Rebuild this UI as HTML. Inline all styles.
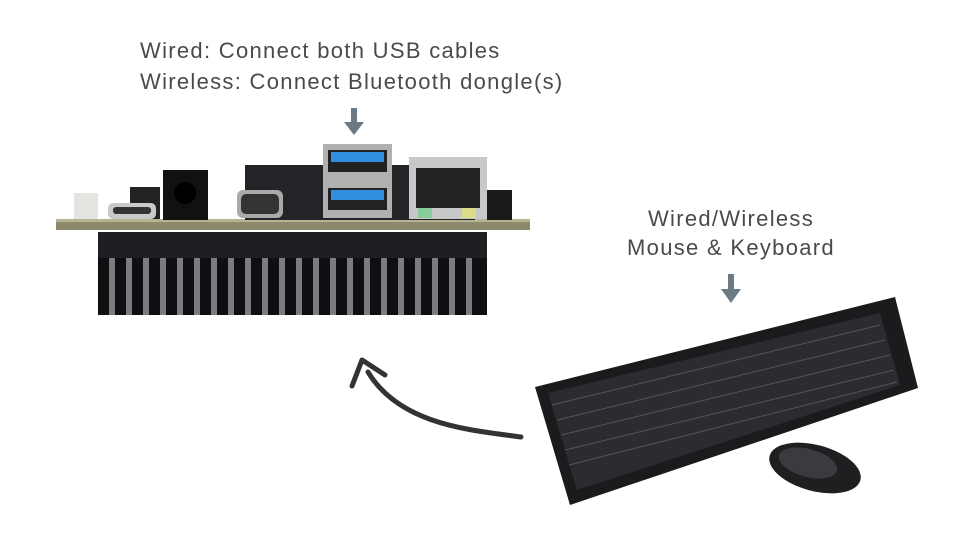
<!DOCTYPE html>
<html><head><style>
html,body{margin:0;padding:0;background:#fff;}
body{width:960px;height:540px;overflow:hidden;font-family:"Liberation Sans",sans-serif;}
</style></head><body>
<svg width="960" height="540" viewBox="0 0 960 540" xmlns="http://www.w3.org/2000/svg">
<g font-family="Liberation Sans, sans-serif" font-size="22" fill="#4a4a4a" letter-spacing="1.3">
<text x="140" y="58">Wired: Connect both USB cables</text>
<text x="140" y="89">Wireless: Connect Bluetooth dongle(s)</text>
<text x="731" y="226" text-anchor="middle">Wired/Wireless</text>
<text x="731" y="255" text-anchor="middle">Mouse &amp; Keyboard</text>
</g>
<g fill="#6b7a84">
<rect x="351" y="108" width="6" height="16"/><polygon points="344,122 364,122 354,135"/>
<rect x="728" y="274" width="6" height="17"/><polygon points="721,289 741,289 731,303"/>
</g>
<path d="M521,437 C470,430 400,425 368,372" fill="none" stroke="#333" stroke-width="5" stroke-linecap="round"/>
<polyline points="352,386 362,360 385,375" fill="none" stroke="#333" stroke-width="5" stroke-linecap="round" stroke-linejoin="round"/>
<rect x="98" y="232" width="389" height="30" fill="#1d1f22"/>
<rect x="98" y="258" width="389" height="57" fill="#7a7c80"/>
<g fill="#0e0f11">
<rect x="98" y="258" width="11" height="57"/><rect x="115" y="258" width="11" height="57"/><rect x="132" y="258" width="11" height="57"/><rect x="149" y="258" width="11" height="57"/><rect x="166" y="258" width="11" height="57"/><rect x="183" y="258" width="11" height="57"/><rect x="200" y="258" width="11" height="57"/><rect x="217" y="258" width="11" height="57"/><rect x="234" y="258" width="11" height="57"/><rect x="251" y="258" width="11" height="57"/><rect x="268" y="258" width="11" height="57"/><rect x="285" y="258" width="11" height="57"/><rect x="302" y="258" width="11" height="57"/><rect x="319" y="258" width="11" height="57"/><rect x="336" y="258" width="11" height="57"/><rect x="353" y="258" width="11" height="57"/><rect x="370" y="258" width="11" height="57"/><rect x="387" y="258" width="11" height="57"/><rect x="404" y="258" width="11" height="57"/><rect x="421" y="258" width="11" height="57"/><rect x="438" y="258" width="11" height="57"/><rect x="455" y="258" width="11" height="57"/><rect x="472" y="258" width="15" height="57"/>
</g>
<rect x="56" y="219" width="474" height="11" fill="#8c8a6a"/>
<rect x="56" y="219" width="474" height="3" fill="#b5b391"/>
<rect x="245" y="165" width="230" height="55" fill="#222428"/>
<rect x="130" y="187" width="30" height="32" fill="#222"/>
<rect x="74" y="193" width="24" height="26" fill="#e6e4e0"/>
<rect x="108" y="203" width="48" height="16" rx="5" fill="#c9c9c9"/>
<rect x="113" y="207" width="38" height="7" rx="3" fill="#333"/>
<rect x="163" y="170" width="45" height="50" fill="#111"/>
<circle cx="185" cy="193" r="11" fill="#000"/>
<rect x="237" y="190" width="46" height="28" rx="6" fill="#aaa"/>
<rect x="241" y="194" width="38" height="20" rx="5" fill="#333"/>
<rect x="323" y="144" width="69" height="74" fill="#b0b0b0"/>
<rect x="328" y="150" width="59" height="22" fill="#222"/>
<rect x="331" y="152" width="53" height="10" fill="#2e8ee0"/>
<rect x="328" y="188" width="59" height="22" fill="#222"/>
<rect x="331" y="190" width="53" height="10" fill="#2e8ee0"/>
<rect x="409" y="157" width="78" height="62" fill="#c8c8c8"/>
<rect x="416" y="168" width="64" height="40" fill="#222"/>
<rect x="418" y="208" width="14" height="10" fill="#8c9"/>
<rect x="462" y="208" width="14" height="10" fill="#dd8"/>
<rect x="487" y="190" width="25" height="30" fill="#1a1a1a"/>
<polygon points="535,387 895,297 918,388 570,505" fill="#1a1b1d"/>
<polygon points="548,393 880,313 900,385 577,490" fill="#2b2c2f"/>
<g stroke="#555" stroke-width="1">
<line x1="552" y1="405" x2="880" y2="325"/>
<line x1="557" y1="420" x2="885" y2="340"/>
<line x1="561" y1="435" x2="890" y2="355"/>
<line x1="565" y1="450" x2="894" y2="370"/>
<line x1="569" y1="465" x2="897" y2="382"/>
</g>
<ellipse cx="815" cy="468" rx="47" ry="23" transform="rotate(15 815 468)" fill="#1e1f21"/>
<ellipse cx="808" cy="463" rx="30" ry="14" transform="rotate(15 808 463)" fill="#3a3b3e"/>
</svg>
</body></html>
